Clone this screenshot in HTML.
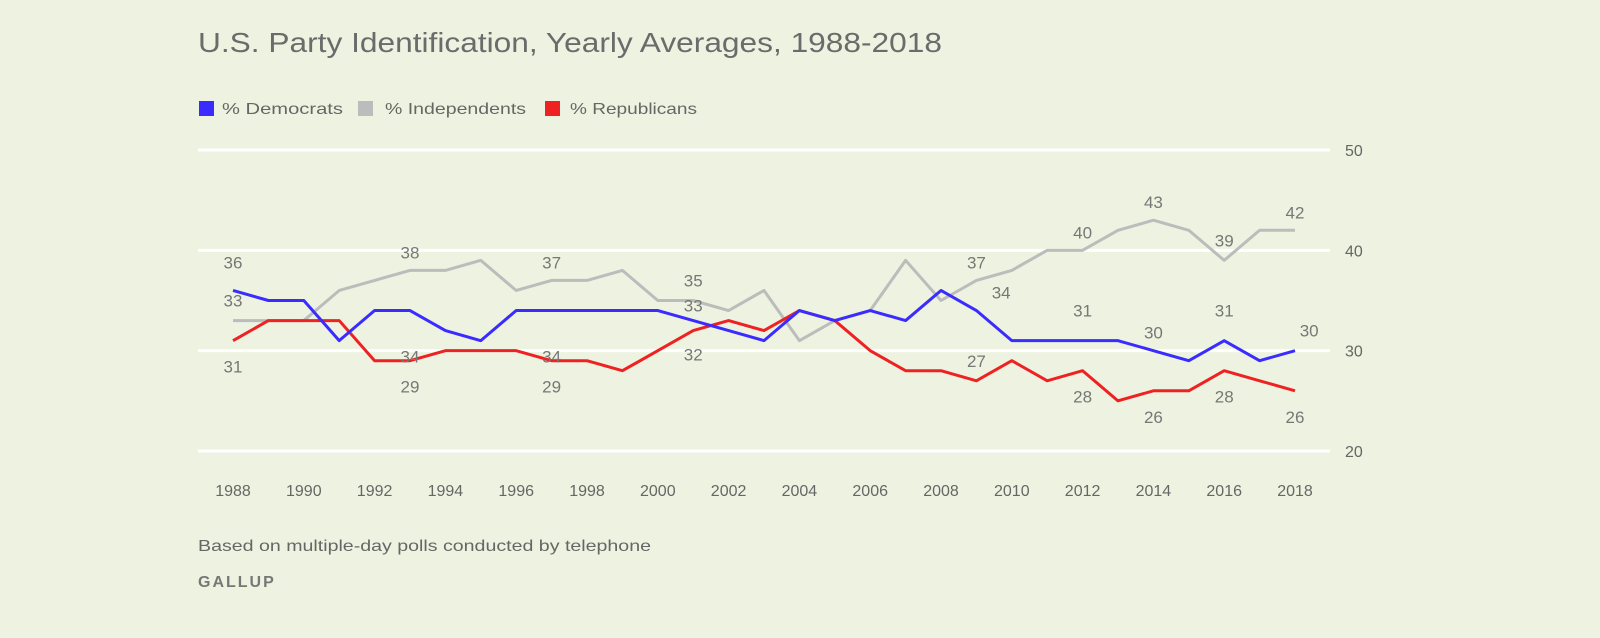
<!DOCTYPE html>
<html><head><meta charset="utf-8"><style>
body{margin:0;width:1600px;height:633px;background:#edf3e0;font-family:"Liberation Sans",sans-serif;overflow:hidden}
svg text{font-family:"Liberation Sans",sans-serif}
</style></head><body>
<svg id="c" width="1600" height="633">
<text x="198" y="52" font-size="28" fill="#6b6b6b" textLength="744" lengthAdjust="spacingAndGlyphs">U.S. Party Identification, Yearly Averages, 1988-2018</text>
<g>
<rect x="199" y="101" width="15" height="15" fill="#3a2cff"/>
<text x="222" y="114" font-size="16" fill="#666" textLength="121" lengthAdjust="spacingAndGlyphs">% Democrats</text>
<rect x="358" y="101" width="15" height="15" fill="#bcbcbc"/>
<text x="385" y="114" font-size="16" fill="#666" textLength="141" lengthAdjust="spacingAndGlyphs">% Independents</text>
<rect x="545" y="101" width="15" height="15" fill="#ee2222"/>
<text x="570" y="114" font-size="16" fill="#666" textLength="127" lengthAdjust="spacingAndGlyphs">% Republicans</text>
</g>
<g id="grid"></g><g id="lines"></g><g id="labels"></g>
<text x="198" y="551" font-size="16" fill="#666" textLength="453" lengthAdjust="spacingAndGlyphs">Based on multiple-day polls conducted by telephone</text>
<text x="198" y="587" font-size="16" fill="#777" font-weight="bold" letter-spacing="2">GALLUP</text>
</svg>
<script>
const years=[1988,1989,1990,1991,1992,1993,1994,1995,1996,1997,1998,1999,2000,2001,2002,2003,2004,2005,2006,2007,2008,2009,2010,2011,2012,2013,2014,2015,2016,2017,2018];
const democrats=[36,35,35,31,34,34,32,31,34,34,34,34,34,33,32,31,34,33,34,33,36,34,31,31,31,31,30,29,31,29,30];
const independents=[33,33,33,36,37,38,38,39,36,37,37,38,35,35,34,36,31,33,34,39,35,37,38,40,40,42,43,42,39,42,42];
const republicans=[31,33,33,33,29,29,30,30,30,29,29,28,30,32,33,32,34,33,30,28,28,27,29,27,28,25,26,26,28,27,26];
const yTicks=[20,30,40,50];
const xTicks=[1988,1990,1992,1994,1996,1998,2000,2002,2004,2006,2008,2010,2012,2014,2016,2018];
const NS='http://www.w3.org/2000/svg';
const X=y=>233+(y-1988)*(1295-233)/30;
const Y=v=>451-(v-20)*(451-150)/30;
function mk(t,a,p){const e=document.createElementNS(NS,t);for(const k in a)e.setAttribute(k,a[k]);p.appendChild(e);return e;}
const grid=document.getElementById('grid');
yTicks.forEach(v=>{
 const l=mk('line',{x1:198,x2:1330,y1:Y(v),y2:Y(v),stroke:'#fff','stroke-width':3},grid);
 
 
 const t=mk('text',{x:1345,y:Y(v)+6,'font-size':16,fill:'#666'},grid);t.textContent=v;
 
 
});
xTicks.forEach(yr=>{
 const t=mk('text',{x:X(yr),y:496,'font-size':16,fill:'#666','text-anchor':'middle'},grid);t.textContent=yr;
 
 
});
const lines=document.getElementById('lines');
[['independents',independents,'#bcbcbc'],['republicans',republicans,'#ee2222'],['democrats',democrats,'#3a2cff']].forEach(([n,d,c])=>{
 const p=mk('polyline',{points:d.map((v,i)=>X(years[i])+','+Y(v)).join(' '),fill:'none',stroke:c,'stroke-width':3,'stroke-linejoin':'round'},lines);
 
 
});
const series={d:democrats,i:independents,r:republicans};
const labelYears=[['d',1988,-22],['i',1988,-12],['r',1988,32],['i',1993,-12],['d',1993,-12],['r',1993,32],
['i',1997,-12],['d',1997,-12],['r',1997,32],['i',2001,-12],['d',2001,-12],['r',2001,30],
['i',2009,-12],['d',2009,-12],['r',2009,-14],['i',2012,-12],['d',2012,-24],['r',2012,32],
['i',2014,-12],['d',2014,-12],['r',2014,32],['i',2016,-14],['d',2016,-24],['r',2016,32],['i',2018,-12],['d',2018,-14],['r',2018,32]];
const labelDx={d2009:0.7,i2016:0,d2018:0.4};
const lab=document.getElementById('labels');
labelYears.forEach(([s,yr,dy])=>{
 const idx=years.indexOf(yr),v=series[s][idx];
 let dyy=dy;
 if(s==='d'&&(yr===1993||yr===1997))dyy=Y(31)-Y(v)+22;
 if(s==='d'&&yr===2001)dyy=Y(34.5)-Y(v)+6;
 if(s==='i'&&yr===2001)dyy=Y(37)-Y(v)+6;
 if(s==='i'&&yr===1988)dyy=Y(35)-Y(v)+6;
 const t=mk('text',{x:X(yr+(labelDx[s+yr]||0)),y:Y(v)+dyy,'font-size':17,fill:'#777','text-anchor':'middle'},lab);
 t.textContent=v;
 
 
});
</script>
</body></html>
